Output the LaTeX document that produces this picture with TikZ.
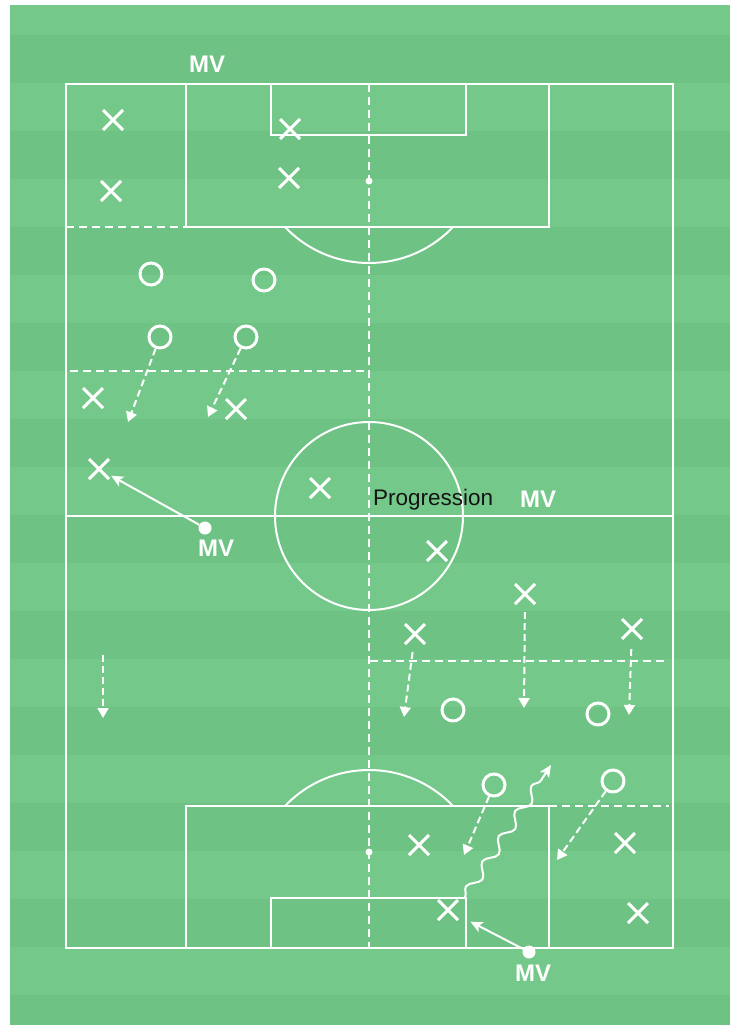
\documentclass[tikz,border=0pt]{standalone}
\usepackage{fontspec}
\setmainfont{Liberation Sans}
\usetikzlibrary{arrows.meta,shapes.misc,decorations.pathmorphing}
\definecolor{grassA}{RGB}{116,201,138}
\definecolor{grassB}{RGB}{110,194,132}
\definecolor{txt}{RGB}{20,20,20}
\begin{document}
\begin{tikzpicture}[x=1pt,y=-1pt,
  pline/.style={white, line width=2pt},
  dline/.style={white, line width=2pt, dash pattern=on 8pt off 5pt},
  cross/.style={cross out, draw=white, line width=3pt, minimum size=20pt, inner sep=0pt, outer sep=0pt},
  ring/.style={circle, draw=white, line width=3pt, minimum size=22pt, inner sep=0pt},
  ball/.style={circle, fill=white, minimum size=13pt, inner sep=0pt},
  mv/.style={text=white, inner sep=0pt, font=\bfseries\fontsize{24}{28}\selectfont},
  darr/.style={white, line width=2pt, dash pattern=on 7pt off 4pt, -{Triangle[width=11pt,length=10pt]}},
  sarr/.style={white, line width=2pt, -{Stealth[width=11pt,length=12pt,inset=3pt]}}
]
\useasboundingbox (0,0) rectangle (739,1025);
\fill[white] (0,0) rectangle (739,1025);
\fill[grassA] (10,5) rectangle (730,1025);
\foreach \k in {0,...,10} {
  \pgfmathsetmacro{\ya}{35+96*\k}
  \pgfmathsetmacro{\yb}{min(83+96*\k,1025)}
  \fill[grassB] (10,\ya) rectangle (730,\yb);
}
% pitch
\draw[pline] (66,84) rectangle (673,948);
\draw[pline] (66,516) -- (673,516);
\draw[pline] (369,516) circle[radius=94pt];
\draw[pline] (186,84) rectangle (549,227);
\draw[pline] (271,84) rectangle (466,135);
\draw[pline] (186,806) rectangle (549,948);
\draw[pline] (271,898) rectangle (466,948);
\fill[white] (369,181) circle[radius=3.5pt];
\fill[white] (369,852) circle[radius=3.5pt];
\begin{scope}
  \clip (186,228) rectangle (549,300);
  \draw[pline] (369,147) circle[radius=116pt];
\end{scope}
\begin{scope}
  \clip (186,730) rectangle (549,805);
  \draw[pline] (369,886) circle[radius=116pt];
\end{scope}
% dashed zone lines
\draw[dline] (369,84) -- (369,948);
\draw[dline] (66,227) -- (186,227);
\draw[dline] (70,371) -- (369,371);
\draw[dline] (370,661) -- (667,661);
\draw[dline] (549,806) -- (669,806);
% crosses
\node[cross] (x1) at (113,120) {};
\node[cross] (x2) at (111,191) {};
\node[cross] (x3) at (290,129) {};
\node[cross] (x4) at (289,178) {};
\node[cross] (x5) at (93,398) {};
\node[cross] (x6) at (236,409) {};
\node[cross] (x7) at (99,469) {};
\node[cross] (x8) at (320,488) {};
\node[cross] (x9) at (437,551) {};
\node[cross] (x10) at (525,594) {};
\node[cross] (x11) at (415,634) {};
\node[cross] (x12) at (632,629) {};
\node[cross] (x13) at (419,845) {};
\node[cross] (x14) at (625,843) {};
\node[cross] (x15) at (448,910) {};
\node[cross] (x16) at (638,913) {};
% rings
\node[ring] (o1) at (151,274) {};
\node[ring] (o2) at (264,280) {};
\node[ring] (o3) at (160,337) {};
\node[ring] (o4) at (246,337) {};
\node[ring] (o5) at (453,710) {};
\node[ring] (o6) at (598,714) {};
\node[ring] (o7) at (494,785) {};
\node[ring] (o8) at (613,781) {};
% balls
\node[ball] (b1) at (205,528) {};
\node[ball] (b2) at (529,952) {};
% labels
\node[mv, anchor=base west] (mv1) at (189,72) {MV};
\node[mv, anchor=base west] (mv2) at (198,556) {MV};
\node[mv, anchor=base west] (mv3) at (520,507) {MV};
\node[mv, anchor=base west] (mv4) at (515,981) {MV};
\node[text=txt, inner sep=0pt, anchor=base west, font=\fontsize{22.5}{26}\selectfont] (prog) at (373,505) {Progression};
% arrow end coordinates
\coordinate (t1) at (128,422);
\coordinate (t2) at (208,417);
\coordinate (s3) at (103,655);
\coordinate (t3) at (103,718);
\coordinate (t4) at (404,717);
\coordinate (t5) at (524,708);
\coordinate (t6) at (629,715);
\coordinate (t7) at (464,855);
\coordinate (t8) at (557,860);
\coordinate (ws) at (465,897);
\coordinate (we) at (551,765);
% dashed runs
\draw[darr] (o3) -- (t1);
\draw[darr] (o4) -- (t2);
\draw[darr] (s3) -- (t3);
\draw[darr, shorten <=8pt] (x11) -- (t4);
\draw[darr, shorten <=8pt] (x10) -- (t5);
\draw[darr, shorten <=10pt] (x12) -- (t6);
\draw[darr] (o7) -- (t7);
\draw[darr] (o8) -- (t8);
% passes
\draw[sarr, shorten >=2.5pt] (b1) -- (x7);
\draw[sarr, shorten >=14pt] (b2) -- (x15);
% dribble
\draw[white, line width=2pt, decorate, decoration={snake, segment length=30pt, amplitude=5pt, post length=8pt}, -{Stealth[width=11pt,length=12pt,inset=3pt]}] (ws) -- (we);
\end{tikzpicture}
\end{document}
